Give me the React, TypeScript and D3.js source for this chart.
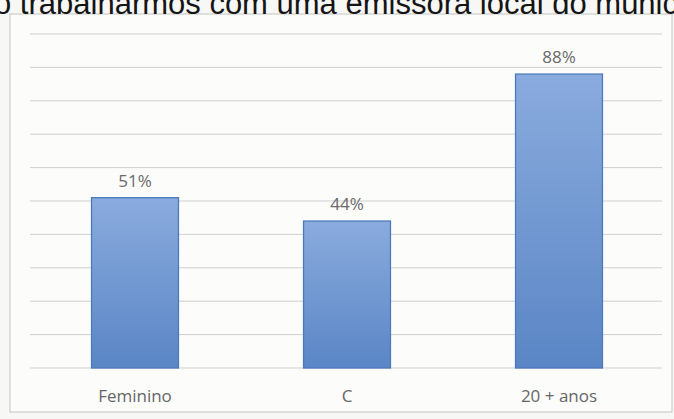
import React from "react";
import * as d3 from "d3";

const categories: string[] = ["Feminino", "C", "20 + anos"];
const values: number[] = [0.51, 0.44, 0.88];
const valueLabels: string[] = ["51%", "44%", "88%"];
const gridTicks: number[] = [0, 0.1, 0.2, 0.3, 0.4, 0.5, 0.6, 0.7, 0.8, 0.9, 1.0];
const headerText = "o trabalharmos com uma emissora local do munic";

const W = 674;
const H = 419;

export default function App() {
  const y = d3.scaleLinear().domain([0, 1]).range([368, 34]);
  const x = d3
    .scaleBand<string>()
    .domain(categories)
    .range([29, 665])
    .paddingInner(0.59)
    .paddingOuter(0.295);
  const font = "'Open Sans', 'Liberation Sans', sans-serif";
  return (
    <svg
      width={W}
      height={H}
      viewBox={`0 0 ${W} ${H}`}
      style={{ position: "absolute", left: 0, top: 0, background: "#f7f7f5" }}
    >
      <defs>
        <linearGradient id="barGrad" x1="0" y1="0" x2="0" y2="1">
          <stop offset="0%" stopColor="#8aabde" />
          <stop offset="100%" stopColor="#5a86c5" />
        </linearGradient>
      </defs>
      <rect x={0} y={0} width={W} height={H} fill="#f7f7f5" />
      <rect x={10} y={14} width={662} height={398} fill="#fcfcfb" stroke="#c4c4c4" strokeWidth={1} />
      {gridTicks.map((t, i) => (
        <line
          key={i}
          x1={30}
          x2={662}
          y1={y(t)}
          y2={y(t)}
          stroke="#cfcfcf"
          strokeWidth={1}
        />
      ))}
      {categories.map((c, i) => (
        <g key={c}>
          <rect
            x={x(c)}
            y={y(values[i])}
            width={x.bandwidth()}
            height={y(0) - y(values[i])}
            fill="url(#barGrad)"
            stroke="#4a7bbd"
            strokeWidth={1.3}
          />
          <text
            x={(x(c) as number) + x.bandwidth() / 2}
            y={y(values[i]) - 11}
            textAnchor="middle"
            fontFamily={font}
            fontSize={17}
            fill="#6a6a6a"
          >
            {valueLabels[i]}
          </text>
          <text
            x={(x(c) as number) + x.bandwidth() / 2}
            y={402}
            textAnchor="middle"
            fontFamily={font}
            fontSize={17}
            fill="#666"
          >
            {c}
          </text>
        </g>
      ))}
      <text x={-6} y={14} fontFamily="'Liberation Sans', Arial, sans-serif" fontSize={31} fill="#151515">
        {headerText}
      </text>
    </svg>
  );
}
